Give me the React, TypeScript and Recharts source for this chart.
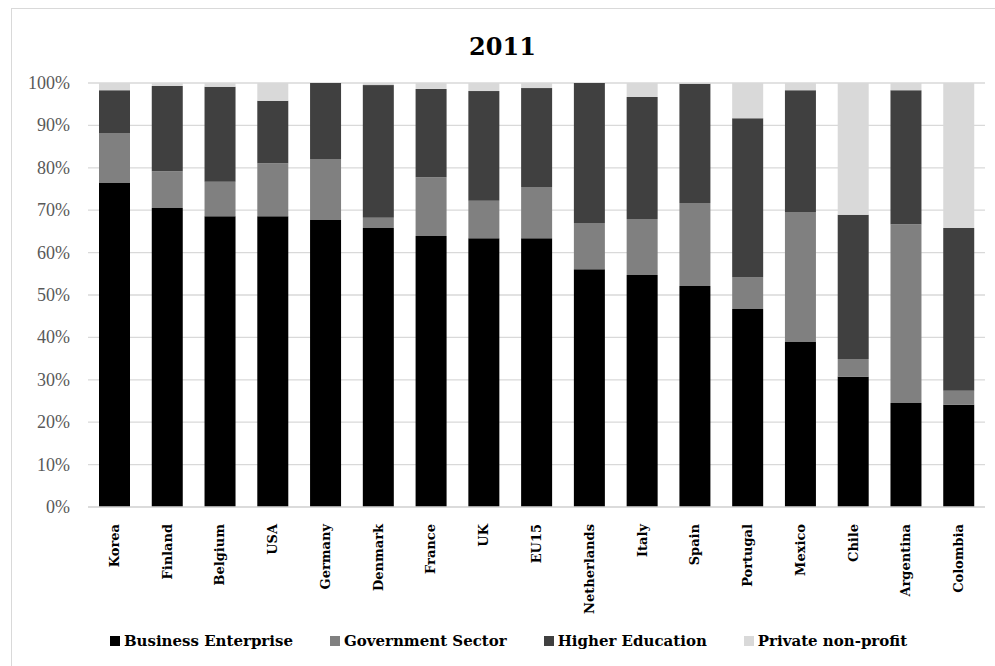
import React from "react";
import { BarChart, Bar, XAxis, YAxis, CartesianGrid, Legend } from "recharts";

const countries = [
  "Korea", "Finland", "Belgium", "USA", "Germany", "Denmark", "France", "UK", "EU15",
  "Netherlands", "Italy", "Spain", "Portugal", "Mexico", "Chile", "Argentina", "Colombia",
];
const business = [76.4, 70.5, 68.6, 68.6, 67.7, 65.8, 63.9, 63.4, 63.4, 56.1, 54.7, 52.1, 46.7, 38.9, 30.7, 24.5, 24.1];
const government = [11.8, 8.7, 8.1, 12.5, 14.4, 2.4, 13.9, 8.8, 12.1, 10.9, 13.2, 19.6, 7.5, 30.7, 4.2, 42.2, 3.3];
const higher = [10.1, 20.1, 22.4, 14.7, 17.9, 31.3, 20.8, 25.9, 23.3, 33.0, 28.8, 28.1, 37.5, 28.7, 34.0, 31.6, 38.4];
const privateNp = [1.7, 0.7, 0.9, 4.2, 0.0, 0.5, 1.4, 1.9, 1.2, 0.0, 3.3, 0.2, 8.3, 1.7, 31.1, 1.7, 34.2];
const yTicks = [0, 0.1, 0.2, 0.3, 0.4, 0.5, 0.6, 0.7, 0.8, 0.9, 1];

const data = countries.map((name, i) => ({
  name,
  business: business[i],
  government: government[i],
  higher: higher[i],
  privateNp: privateNp[i],
}));

const serif = "'DejaVu Serif', serif";

const XTick = (props: any) => {
  const { x, y, payload } = props;
  const ty = y + 9;
  return (
    <text
      x={x}
      y={ty}
      transform={`rotate(-90 ${x} ${ty})`}
      textAnchor="end"
      dominantBaseline="central"
      fontFamily={serif}
      fontWeight="bold"
      fontSize={13}
      fill="#000"
    >
      {payload.value}
    </text>
  );
};

const YTick = (props: any) => {
  const { x, y, payload } = props;
  return (
    <text
      x={x}
      y={y}
      textAnchor="end"
      dominantBaseline="central"
      fontFamily="'Liberation Serif', serif"
      fontSize={18}
      fill="#595959"
    >
      {`${Math.round(payload.value * 100)}%`}
    </text>
  );
};

const LegendContent = (props: any) => {
  const { payload } = props;
  return (
    <div style={{ display: "flex", justifyContent: "center", alignItems: "center", height: 24, paddingLeft: 22 }}>
      {(payload || []).map((p: any, i: number) => (
        <div key={i} style={{ display: "flex", alignItems: "center", marginRight: i < 3 ? 37 : 0 }}>
          <span style={{ width: 10, height: 10, background: p.color, display: "inline-block", marginRight: 4 }} />
          <span style={{ fontFamily: serif, fontWeight: "bold", fontSize: 15, color: "#000" }}>{p.value}</span>
        </div>
      ))}
    </div>
  );
};

export default function App() {
  return (
    <div style={{ position: "absolute", left: 0, top: 0, width: 995, height: 666, background: "#fff", overflow: "hidden" }}>
      <div
        style={{
          position: "absolute",
          left: 11,
          top: 8,
          width: 1000,
          height: 700,
          border: "1px solid #d9d9d9",
        }}
      />
      <BarChart
        width={995}
        height={666}
        data={data}
        stackOffset="expand"
        margin={{ top: 83, right: 10, bottom: 0, left: 0 }}
        style={{ position: "absolute", left: 0, top: 0 }}
      >
        <CartesianGrid vertical={false} stroke="#d9d9d9" strokeWidth={1.3} />
        <XAxis
          dataKey="name"
          interval={0}
          tick={<XTick />}
          tickLine={false}
          axisLine={{ stroke: "#d9d9d9", strokeWidth: 1.3 }}
          height={135}
        />
        <YAxis
          width={88}
          domain={[0, 1]}
          ticks={yTicks}
          axisLine={false}
          tickLine={false}
          tickMargin={12}
          tick={<YTick />}
        />
        <Legend
          verticalAlign="bottom"
          content={<LegendContent />}
          wrapperStyle={{ bottom: 13, left: 0, width: 995, height: 24 }}
        />
        <Bar dataKey="business" name="Business Enterprise" stackId="a" fill="#000000" barSize={31} isAnimationActive={false} />
        <Bar dataKey="government" name="Government Sector" stackId="a" fill="#808080" barSize={31} isAnimationActive={false} />
        <Bar dataKey="higher" name="Higher Education" stackId="a" fill="#404040" barSize={31} isAnimationActive={false} />
        <Bar dataKey="privateNp" name="Private non-profit" stackId="a" fill="#d9d9d9" barSize={31} isAnimationActive={false} />
      </BarChart>
      <div
        style={{
          position: "absolute",
          left: 0,
          width: 1005,
          top: 33,
          textAlign: "center",
          fontFamily: serif,
          fontWeight: "bold",
          fontSize: 24,
          lineHeight: "28px",
        }}
      >
        2011
      </div>
    </div>
  );
}
